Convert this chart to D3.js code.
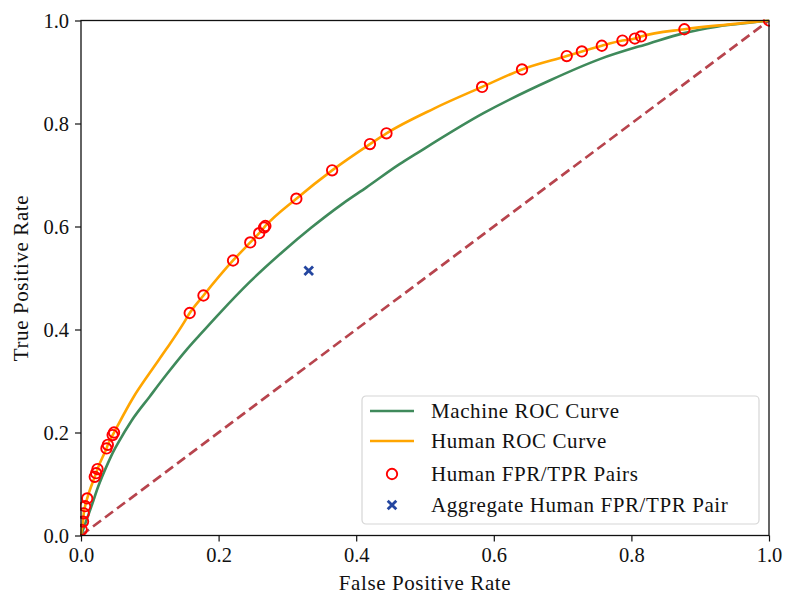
<!DOCTYPE html>
<html>
<head>
<meta charset="utf-8">
<script src="https://cdn.jsdelivr.net/npm/d3@7"></script>
<style>
  body { margin: 0; background: #fff; }
  svg text { font-family: "Liberation Serif", "DejaVu Serif", serif; fill: #111; }
</style>
</head>
<body>
<script>
//global variables
var W = 787, H = 596;
var margin = { left: 81, top: 20.5, right: 18, bottom: 60.5 };
var w = W - margin.left - margin.right;
var h = H - margin.top - margin.bottom;

// machine ROC curve (green)
var machineFpr = [0, 0.008, 0.015, 0.025, 0.039, 0.047, 0.054, 0.073, 0.1, 0.124, 0.153, 0.173,
  0.201, 0.245, 0.294, 0.334, 0.381, 0.415, 0.463, 0.488, 0.585, 0.682, 0.754, 0.827, 0.875,
  0.924, 0.988, 1];
var machineTpr = [0, 0.03, 0.056, 0.095, 0.14, 0.163, 0.18, 0.222, 0.27, 0.312, 0.36, 0.39,
  0.431, 0.492, 0.552, 0.597, 0.645, 0.676, 0.721, 0.742, 0.82, 0.884, 0.925, 0.956, 0.975,
  0.988, 0.998, 1];

// human ROC curve (orange)
var humanFpr = [0, 0.001, 0.003, 0.004, 0.006, 0.009, 0.02, 0.022, 0.024, 0.037, 0.039, 0.046,
  0.048, 0.076, 0.1, 0.124, 0.148, 0.158, 0.178, 0.221, 0.246, 0.259, 0.266, 0.268, 0.313, 0.365,
  0.42, 0.444, 0.513, 0.583, 0.641, 0.706, 0.728, 0.757, 0.787, 0.805, 0.814, 0.877, 0.947, 1];
var humanTpr = [0, 0.011, 0.027, 0.043, 0.057, 0.072, 0.114, 0.121, 0.129, 0.169, 0.176, 0.195,
  0.2, 0.268, 0.316, 0.362, 0.41, 0.432, 0.466, 0.534, 0.569, 0.587, 0.598, 0.601, 0.654, 0.709,
  0.76, 0.781, 0.829, 0.871, 0.905, 0.931, 0.94, 0.951, 0.961, 0.965, 0.969, 0.983, 0.993, 1];

// human FPR/TPR pairs (circles)
var pairFpr = [0.001, 0.003, 0.004, 0.006, 0.009, 0.02, 0.022, 0.024, 0.037, 0.039, 0.046, 0.048,
  0.158, 0.178, 0.221, 0.246, 0.259, 0.266, 0.268, 0.313, 0.365, 0.42, 0.444, 0.583, 0.641,
  0.706, 0.728, 0.757, 0.787, 0.805, 0.814, 0.877, 1];
var pairTpr = [0.011, 0.027, 0.043, 0.057, 0.072, 0.114, 0.121, 0.129, 0.169, 0.176, 0.195, 0.2,
  0.432, 0.466, 0.534, 0.569, 0.587, 0.598, 0.601, 0.654, 0.709, 0.76, 0.781, 0.871, 0.905,
  0.931, 0.94, 0.951, 0.961, 0.965, 0.969, 0.983, 1];

// aggregate human pair (x)
var aggFpr = [0.331];
var aggTpr = [0.514];

var ticks = [0, 0.2, 0.4, 0.6, 0.8, 1.0];
var legendLabels = ["Machine ROC Curve", "Human ROC Curve", "Human FPR/TPR Pairs",
  "Aggregate Human FPR/TPR Pair"];

var colGreen = "#3f8a5b", colOrange = "#ffa500", colRed = "#ff0000",
    colDiag = "#b7444d", colBlue = "#2446a0";
var serif = "'Liberation Serif', 'DejaVu Serif', serif";

var svg = d3.select("body").append("svg")
  .attr("width", W).attr("height", H);

var g = svg.append("g")
  .attr("transform", "translate(" + margin.left + "," + margin.top + ")");

var x = d3.scaleLinear().domain([0, 1]).range([0, w]);
var y = d3.scaleLinear().domain([0, 1]).range([h, 0]);

function zip(a, b) { return a.map(function(v, i) { return [v, b[i]]; }); }

var line = d3.line()
  .x(function(d) { return x(d[0]); })
  .y(function(d) { return y(d[1]); });
var smooth = d3.line()
  .curve(d3.curveMonotoneX)
  .x(function(d) { return x(d[0]); })
  .y(function(d) { return y(d[1]); });

g.append("defs").append("clipPath").attr("id", "clip")
  .append("rect").attr("x", -1).attr("y", -1).attr("width", w + 2).attr("height", h + 2);

var plot = g.append("g").attr("clip-path", "url(#clip)");

//diagonal
plot.append("path")
  .attr("d", line([[0, 0], [1, 1]]))
  .attr("fill", "none").attr("stroke", colDiag)
  .attr("stroke-width", 2.7).attr("stroke-dasharray", "10,5");

plot.append("path")
  .attr("d", smooth(zip(machineFpr, machineTpr)))
  .attr("fill", "none").attr("stroke", colGreen)
  .attr("stroke-width", 2.6).attr("stroke-linejoin", "round");

plot.append("path")
  .attr("d", smooth(zip(humanFpr, humanTpr)))
  .attr("fill", "none").attr("stroke", colOrange)
  .attr("stroke-width", 2.6).attr("stroke-linejoin", "round");

plot.selectAll("circle.pair")
  .data(zip(pairFpr, pairTpr))
  .enter().append("circle")
  .attr("class", "pair")
  .attr("cx", function(d) { return x(d[0]); })
  .attr("cy", function(d) { return y(d[1]); })
  .attr("r", 5.2)
  .attr("fill", "none").attr("stroke", colRed).attr("stroke-width", 1.9);

function cross(sel, cx, cy, s) {
  sel.append("path")
    .attr("d", "M" + (cx - s) + "," + (cy - s) + "L" + (cx + s) + "," + (cy + s) +
      "M" + (cx - s) + "," + (cy + s) + "L" + (cx + s) + "," + (cy - s))
    .attr("stroke", colBlue).attr("stroke-width", 2.8).attr("fill", "none");
}
zip(aggFpr, aggTpr).forEach(function(d) { cross(plot, x(d[0]), y(d[1]), 4.3); });

//axes
var xAxis = g.append("g").attr("transform", "translate(0," + h + ")")
  .call(d3.axisBottom(x).tickValues(ticks).tickFormat(d3.format(".1f")).tickSize(6).tickPadding(6));
var yAxis = g.append("g")
  .call(d3.axisLeft(y).tickValues(ticks).tickFormat(d3.format(".1f")).tickSize(6).tickPadding(6));
[xAxis, yAxis].forEach(function(a) {
  a.attr("font-family", serif).attr("font-size", 20);
  a.select(".domain").remove();
  a.selectAll("line").attr("stroke", "#111").attr("stroke-width", 1.2);
  a.selectAll("text").style("font-family", serif).style("font-size", "20.5px").attr("fill", "#111");
});

// frame
g.append("rect").attr("width", w).attr("height", h)
  .attr("fill", "none").attr("stroke", "#111").attr("stroke-width", 1.3);

//axis titles
svg.append("text")
  .attr("x", margin.left + w / 2).attr("y", 590)
  .attr("text-anchor", "middle")
  .style("font-family", serif).style("font-size", "21px")
  .attr("letter-spacing", "0.6px")
  .text("False Positive Rate");
svg.append("text")
  .attr("transform", "translate(28," + (margin.top + h / 2) + ") rotate(-90)")
  .attr("text-anchor", "middle")
  .style("font-family", serif).style("font-size", "21px")
  .attr("letter-spacing", "0.6px")
  .text("True Positive Rate");

//legend
var lg = svg.append("g").attr("transform", "translate(362,396)");
lg.append("rect").attr("width", 397).attr("height", 128).attr("rx", 4)
  .attr("fill", "#fff").attr("fill-opacity", 0.8)
  .attr("stroke", "#d6d6d6").attr("stroke-width", 1.2);
var rowY = [15, 45, 78, 109];
legendLabels.forEach(function(t, i) {
  var ry = rowY[i];
  if (i === 0 || i === 1) {
    lg.append("line").attr("x1", 8).attr("x2", 52).attr("y1", ry).attr("y2", ry)
      .attr("stroke", i === 0 ? colGreen : colOrange).attr("stroke-width", 2.6);
  } else if (i === 2) {
    lg.append("circle").attr("cx", 30).attr("cy", ry).attr("r", 5.2)
      .attr("fill", "none").attr("stroke", colRed).attr("stroke-width", 1.9);
  } else {
    cross(lg, 30, ry, 4.3);
  }
  lg.append("text").attr("x", 69).attr("y", ry + 7)
    .style("font-family", serif).style("font-size", "21px")
    .attr("letter-spacing", "0.6px")
    .text(t);
});
</script>
</body>
</html>
